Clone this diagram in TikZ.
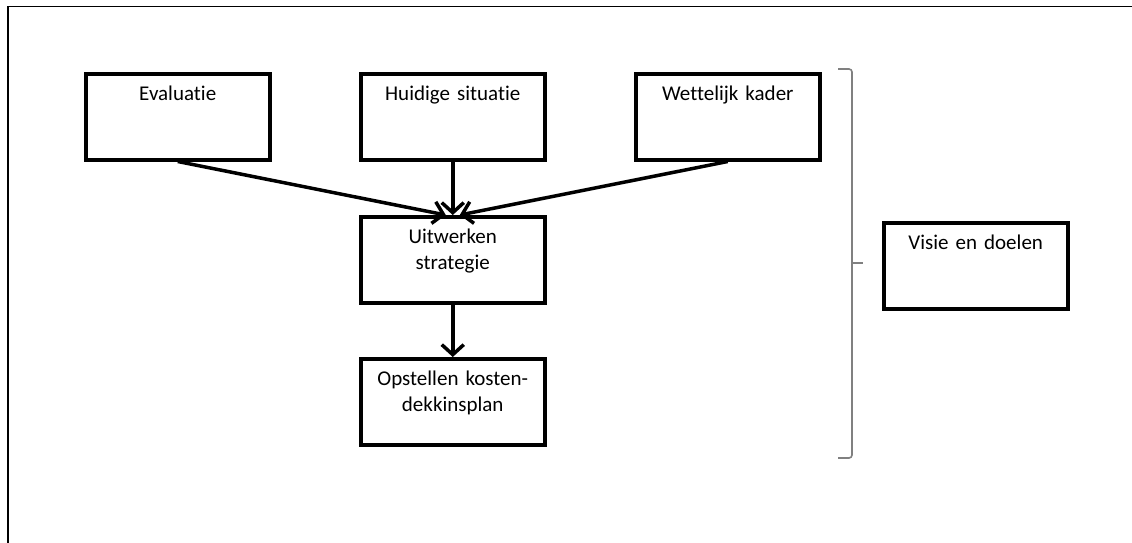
\documentclass[tikz,border=0pt]{standalone}
\usepackage{fontspec}
\setmainfont[Ligatures=NoCommon]{Carlito}
\usetikzlibrary{arrows.meta}

\tikzset{
    stapbox/.style={draw, line width=3.5pt, anchor=north west, inner sep=0pt,
        minimum width=184pt, text width=178pt, align=center,
        text height=27pt, text depth=59pt,
        font=\fontsize{21}{26}\selectfont},
    pijl/.style={line width=3.5pt, -{Straight Barb[length=10pt,width=22pt,line width=3.5pt]}},
    haak/.style={draw=gray, line width=1.6pt, rounded corners=3pt}
}

\begin{document}
\begin{tikzpicture}[x=1pt,y=-1pt]
        \useasboundingbox (0,0) rectangle (1132,543);

        % kader rond de figuur
        \draw[line width=1.5pt] (8,545) -- (8,6.5) -- (1134,6.5);

        \node[stapbox] (eval) at (84,72) {Evaluatie};
        \node[stapbox] (huidig) at (359,72) {Huidige situatie};
        \node[stapbox] (wet) at (634,72) {Wettelijk kader};

        \node[stapbox] (strat) at (359,215) {Uitwerken\\strategie};
        \node[stapbox] (plan) at (359,357) {Opstellen kosten-\\dekkinsplan};

        \node[stapbox] (visie) at (882,221) {Visie en doelen};

        \coordinate (stratL) at ([xshift=-7pt]strat.north);
        \coordinate (stratR) at ([xshift=7pt]strat.north);

        \draw[pijl] (eval.south) -- (stratL);
        \draw[pijl] (huidig.south) -- (strat.north);
        \draw[pijl] (wet.south) -- (stratR);
        \draw[pijl] (strat.south) -- (plan.north);

        % accolade
        \draw[haak] (838,69) -- (852,69) -- (852,458) -- (838,458);
        \draw[haak] (852,263) -- (863,263);

    \end{tikzpicture}
\end{document}
